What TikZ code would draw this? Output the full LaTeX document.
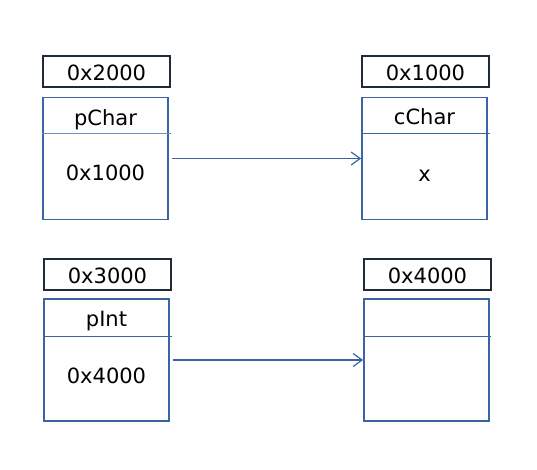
\documentclass[tikz,border=0pt]{standalone}
\usepackage{fontspec}
\setmainfont{DejaVu Sans}
\usetikzlibrary{arrows.meta}
\definecolor{navy}{HTML}{1F2A3A}
\definecolor{boxblue}{HTML}{3A64A2}
\definecolor{lineblue}{HTML}{7391BE}
\begin{document}
\begin{tikzpicture}[x=1pt,y=-1pt,
  addr/.style={draw=navy,line width=2pt,minimum width=127pt,minimum height=31pt,inner sep=0pt},
  cell/.style={draw=boxblue,line width=1.7pt,minimum width=125pt,minimum height=122pt,inner sep=0pt},
  txt/.style={font=\fontsize{21}{21}\selectfont,inner sep=0pt,anchor=base,text=black},
  divider/.style={draw=#1,line width=1.2pt},
  ptr/.style={draw=boxblue,line width=1.2pt,-{Straight Barb[length=9pt,width=13pt,line width=1.2pt]}}]
\useasboundingbox (0,0) rectangle (537,469);
% top left
\node[addr] (a1) at (106.5,71.5) {};
\node[txt] (ta1) at (106.5,80) {0x2000};
\node[cell] (c1) at (105.5,158.5) {};
\coordinate (d1) at (171,133.5);
\draw[divider=lineblue] (c1.west |- d1) -- (d1);
\node[txt] (n1) at (105.5,125) {pChar};
\node[txt] (v1) at (105.5,180) {0x1000};
% top right
\node[addr] (a2) at (425.5,71.5) {};
\node[txt] (ta2) at (425.5,80) {0x1000};
\node[cell] (c2) at (424.5,158.5) {};
\coordinate (d2) at (490,133.5);
\draw[divider=boxblue] (c2.west |- d2) -- (d2);
\node[txt] (n2) at (424.5,124) {cChar};
\node[txt] (v2) at (424.5,181) {x};
% bottom left
\node[addr] (a3) at (107.5,274) {};
\node[txt] (ta3) at (107.5,283) {0x3000};
\node[cell] (c3) at (106.5,360) {};
\coordinate (d3) at (172,336.5);
\draw[divider=boxblue] (c3.west |- d3) -- (d3);
\node[txt] (n3) at (106.5,326.5) {pInt};
\node[txt] (v3) at (106.5,383) {0x4000};
% bottom right
\node[addr] (a4) at (427.5,274) {};
\node[txt] (ta4) at (427.5,283) {0x4000};
\node[cell] (c4) at (426.5,360) {};
\coordinate (d4) at (491,336.5);
\draw[divider=boxblue] (c4.west |- d4) -- (d4);
% pointers
\draw[ptr] ([xshift=3pt]c1.east) -- (c2.west);
\draw[ptr] ([xshift=3pt]c3.east) -- (c4.west);
\end{tikzpicture}
\end{document}
